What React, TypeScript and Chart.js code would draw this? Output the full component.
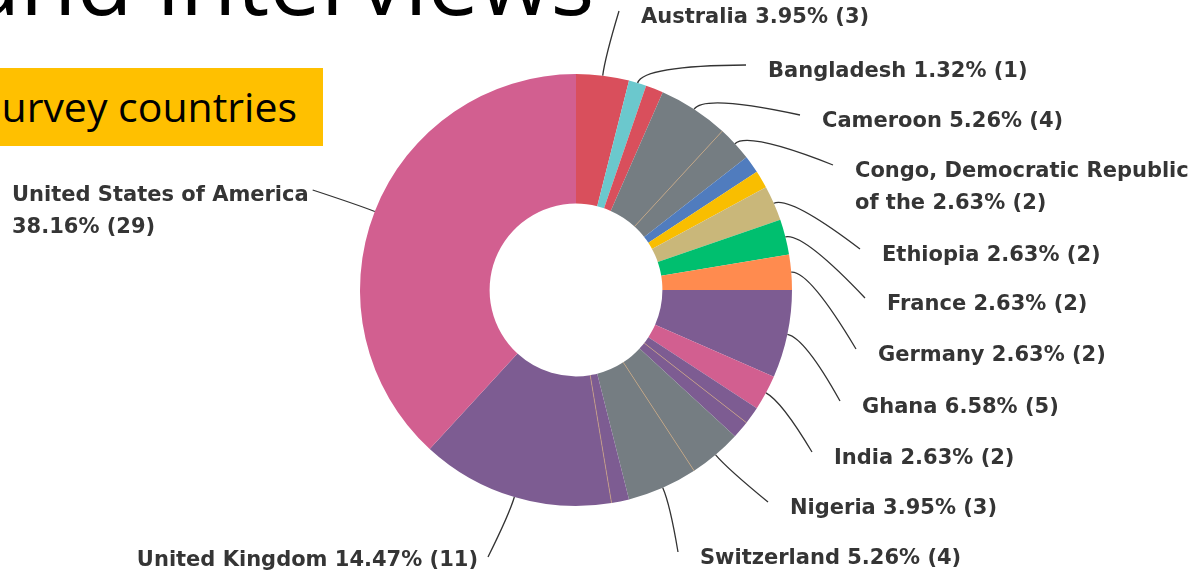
import React, { useEffect, useRef } from 'react';
import { Chart, registerables } from 'chart.js';

Chart.register(...registerables);

// ---- data ----
const countries = [
  'Australia',
  'Bangladesh',
  '',
  'Cameroon',
  'Congo, Democratic Republic of the',
  '',
  '',
  'Ethiopia',
  'France',
  'Germany',
  'Ghana',
  'India',
  '',
  '',
  'Nigeria',
  'Switzerland',
  '',
  'United Kingdom',
  'United States of America',
];
const responses = [3, 1, 1, 4, 2, 1, 1, 2, 2, 2, 5, 2, 1, 1, 3, 4, 1, 11, 29];
const sliceColors = [
  '#D94F5C',
  '#6BC8CD',
  '#D94F5C',
  '#757D82',
  '#757D82',
  '#507CBE',
  '#F9BE00',
  '#C9B77A',
  '#00BF6F',
  '#FF8B4F',
  '#7D5C92',
  '#D25F90',
  '#7D5C92',
  '#7D5C92',
  '#757D82',
  '#757D82',
  '#7D5C92',
  '#7D5C92',
  '#D25F90',
];

// ---- label layout (offsets of the text anchor from the doughnut centre) ----
type Place = { dx: number; dy: number; align: 'left' | 'right' } | null;
const labelPlacement: Place[] = [
  { dx: 65, dy: -272, align: 'left' },
  { dx: 192, dy: -218, align: 'left' },
  null,
  { dx: 246, dy: -168, align: 'left' },
  { dx: 279, dy: -118, align: 'left' },
  null,
  null,
  { dx: 306, dy: -34, align: 'left' },
  { dx: 311, dy: 15, align: 'left' },
  { dx: 302, dy: 66, align: 'left' },
  { dx: 286, dy: 118, align: 'left' },
  { dx: 258, dy: 169, align: 'left' },
  null,
  null,
  { dx: 214, dy: 219, align: 'left' },
  { dx: 124, dy: 269, align: 'left' },
  null,
  { dx: -98, dy: 271, align: 'right' },
  { dx: -564, dy: -94, align: 'left' },
];

const LABEL_FONT = 'bold 21px "DejaVu Sans"';
const LABEL_COLOR = '#353535';
const LINE_GAP = 32;
const WRAP_WIDTH = 350;

function wrapText(ctx: CanvasRenderingContext2D, text: string, maxW: number): string[] {
  const words = text.split(' ');
  const lines: string[] = [];
  let cur = '';
  for (const w of words) {
    const test = cur ? cur + ' ' + w : w;
    if (cur && ctx.measureText(test).width > maxW) {
      lines.push(cur);
      cur = w;
    } else {
      cur = test;
    }
  }
  if (cur) lines.push(cur);
  return lines;
}

const calloutPlugin = {
  id: 'callouts',
  afterDatasetsDraw(chart: any) {
    const ctx: CanvasRenderingContext2D = chart.ctx;
    const meta = chart.getDatasetMeta(0);
    const data = chart.data.datasets[0].data as number[];
    const colors = chart.data.datasets[0].backgroundColor as string[];
    const total = data.reduce((a, b) => a + b, 0);

    // faint separators between adjacent slices of the same colour
    meta.data.forEach((arc: any, i: number) => {
      if (i === 0 || colors[i] !== colors[i - 1]) return;
      const p = arc.getProps(['x', 'y', 'startAngle', 'innerRadius', 'outerRadius'], true);
      ctx.save();
      ctx.strokeStyle = 'rgba(214,168,118,0.8)';
      ctx.lineWidth = 0.8;
      ctx.beginPath();
      ctx.moveTo(p.x + Math.cos(p.startAngle) * p.innerRadius, p.y + Math.sin(p.startAngle) * p.innerRadius);
      ctx.lineTo(p.x + Math.cos(p.startAngle) * p.outerRadius, p.y + Math.sin(p.startAngle) * p.outerRadius);
      ctx.stroke();
      ctx.restore();
    });

    ctx.save();
    ctx.font = LABEL_FONT;
    ctx.textBaseline = 'middle';
    meta.data.forEach((arc: any, i: number) => {
      const name = chart.data.labels[i];
      const place = labelPlacement[i];
      if (!name || !place) return;
      const p = arc.getProps(['x', 'y', 'startAngle', 'endAngle', 'outerRadius'], true);
      const mid = (p.startAngle + p.endAngle) / 2;
      const pct = ((data[i] / total) * 100).toFixed(2);
      const lines = wrapText(ctx, `${name} ${pct}% (${data[i]})`, WRAP_WIDTH);
      const tx = p.x + place.dx;
      const ty = p.y + place.dy;
      let ex: number, ey: number;
      if (place.align === 'right') {
        ex = tx + 10;
        ey = ty - 4;
      } else if (place.dx < 0) {
        ex = tx + ctx.measureText(lines[0]).width + 4;
        ey = ty - 6;
      } else {
        ex = tx - 22;
        ey = ty - 7;
      }
      const sx = p.x + Math.cos(mid) * p.outerRadius;
      const sy = p.y + Math.sin(mid) * p.outerRadius;
      const cx = p.x + Math.cos(mid) * (p.outerRadius + 18);
      const cy = p.y + Math.sin(mid) * (p.outerRadius + 18);
      ctx.strokeStyle = '#333333';
      ctx.lineWidth = 1.3;
      ctx.beginPath();
      ctx.moveTo(sx, sy);
      ctx.quadraticCurveTo(cx, cy, ex, ey);
      ctx.stroke();

      ctx.fillStyle = LABEL_COLOR;
      ctx.textAlign = place.align;
      lines.forEach((ln, k) => ctx.fillText(ln, tx, ty + k * LINE_GAP));
    });
    ctx.restore();
  },
};

export default function App() {
  const canvasRef = useRef<HTMLCanvasElement | null>(null);

  useEffect(() => {
    if (!canvasRef.current) return;
    const chart = new Chart(canvasRef.current, {
      type: 'doughnut',
      data: {
        labels: countries,
        datasets: [
          {
            data: responses,
            backgroundColor: sliceColors,
            borderWidth: 0,
          },
        ],
      },
      options: {
        animation: false,
        responsive: false,
        maintainAspectRatio: false,
        devicePixelRatio: 1,
        cutout: '40%',
        events: [],
        layout: { padding: { left: 200, right: 252, top: 74, bottom: 74 } },
        plugins: {
          legend: { display: false },
          tooltip: { enabled: false },
        },
      },
      plugins: [calloutPlugin],
    });
    return () => chart.destroy();
  }, []);

  return (
    <div
      style={{
        position: 'fixed',
        left: 0,
        top: 0,
        width: 1204,
        height: 580,
        overflow: 'hidden',
        background: '#ffffff',
      }}
    >
      <svg
        width={1204}
        height={580}
        style={{ position: 'absolute', left: 0, top: 0 }}
      >
        <text
          x={-31}
          y={15}
          fontFamily='"Open Sans", sans-serif'
          fontSize={92}
          fill="#000000"
        >
          and interviews
        </text>
        <rect x={0} y={68} width={323} height={78} fill="#FFC000" />
        <text
          x={-21}
          y={122}
          fontFamily='"Open Sans", sans-serif'
          fontSize={41}
          fill="#000000"
        >
          Survey countries
        </text>
      </svg>
      <canvas
        ref={canvasRef}
        width={1204}
        height={580}
        style={{ position: 'absolute', left: 0, top: 0, width: 1204, height: 580 }}
      />
    </div>
  );
}
